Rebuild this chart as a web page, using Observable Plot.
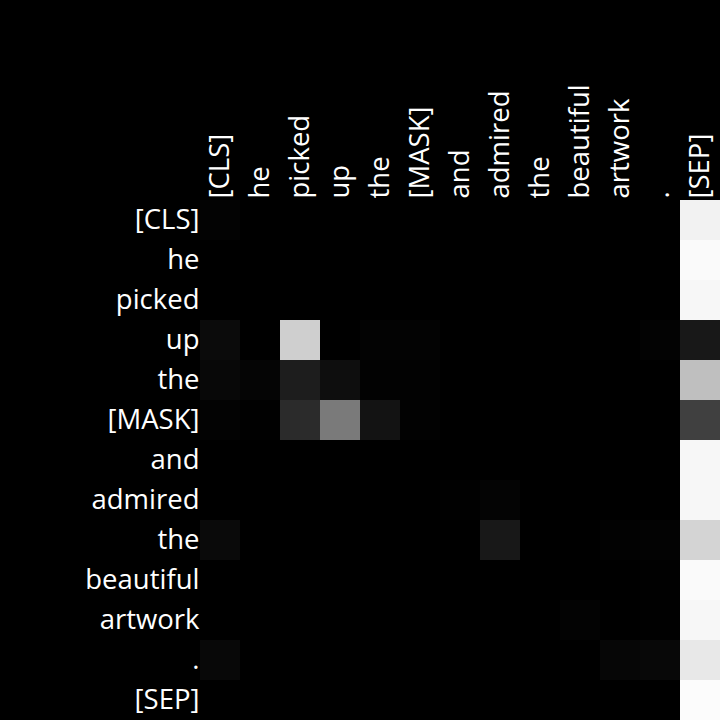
<!DOCTYPE html>
<html>
<head>
<meta charset="utf-8">
<script src="https://cdn.jsdelivr.net/npm/d3@7"></script>
<script src="https://cdn.jsdelivr.net/npm/@observablehq/plot@0.6"></script>
<style>
html, body { margin: 0; padding: 0; background: #000; }
#chart svg { display: block; }
</style>
</head>
<body>
<div id="chart"></div>
<script>
const tokens = ["[CLS]", "he", "picked", "up", "the", "[MASK]", "and", "admired", "the", "beautiful", "artwork", ".", "[SEP]"];

// attention weights: row = query token, column = key token
const row0  = [0.01, 0, 0, 0, 0, 0, 0, 0, 0, 0, 0, 0, 0.95];
const row1  = [0, 0, 0, 0, 0, 0, 0, 0, 0, 0, 0, 0, 0.98];
const row2  = [0, 0, 0, 0, 0, 0, 0, 0, 0, 0, 0, 0, 0.97];
const row3  = [0.043, 0, 0.81, 0, 0.012, 0.012, 0, 0, 0, 0, 0, 0.012, 0.094];
const row4  = [0.03, 0.02, 0.114, 0.055, 0.008, 0.008, 0, 0, 0, 0, 0, 0, 0.75];
const row5  = [0.012, 0.004, 0.17, 0.48, 0.075, 0.008, 0, 0, 0, 0, 0, 0, 0.25];
const row6  = [0, 0, 0, 0, 0, 0, 0, 0, 0, 0, 0, 0, 0.97];
const row7  = [0, 0, 0, 0, 0, 0, 0.004, 0.016, 0, 0, 0, 0, 0.97];
const row8  = [0.04, 0, 0, 0, 0, 0, 0, 0.094, 0, 0, 0.008, 0.012, 0.83];
const row9  = [0, 0, 0, 0, 0, 0, 0, 0, 0, 0, 0, 0.004, 0.98];
const row10 = [0, 0, 0, 0, 0, 0, 0, 0, 0, 0.012, 0, 0.004, 0.97];
const row11 = [0.03, 0, 0, 0, 0, 0, 0, 0, 0, 0, 0.024, 0.03, 0.91];
const row12 = [0, 0, 0, 0, 0, 0, 0, 0, 0, 0, 0, 0, 0.99];
const weights = [row0, row1, row2, row3, row4, row5, row6, row7, row8, row9, row10, row11, row12];

const idx = tokens.map((_, i) => i);
const table = [];
weights.forEach((row, r) => row.forEach((v, c) => table.push({r, c, v})));

const chart = Plot.plot({
  width: 720,
  height: 720,
  marginLeft: 200,
  marginTop: 200,
  marginRight: 0,
  marginBottom: 0,
  style: {background: "#000", color: "#fff", fontFamily: "Open Sans, Noto Sans, sans-serif", fontSize: "27.5px"},
  x: {domain: idx, padding: 0, axis: "top", tickSize: 0, tickPadding: 2, tickRotate: -90, tickFormat: i => tokens[i], label: null},
  y: {domain: idx, padding: 0, tickSize: 0, tickPadding: 1, tickFormat: i => tokens[i], label: null},
  color: {type: "linear", domain: [0, 1], range: ["#000000", "#ffffff"]},
  marks: [
    Plot.cell(table, {x: "c", y: "r", fill: "v", inset: 0})
  ]
});
document.getElementById("chart").appendChild(chart);
</script>
</body>
</html>
